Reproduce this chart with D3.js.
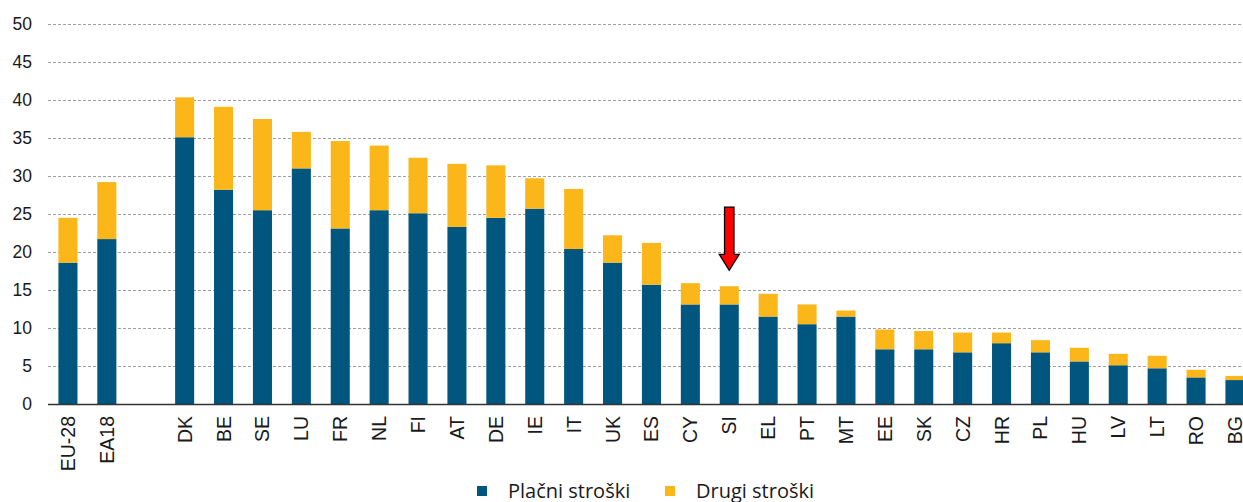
<!DOCTYPE html>
<html>
<head>
<meta charset="utf-8">
<script src="https://cdn.jsdelivr.net/npm/d3@7"></script>
<style>
  body { margin: 0; background: #fff; }
  .tick-label { font-family: "Liberation Sans", Arial, sans-serif; fill: #1a1a1a; }
  .legend-label { font-family: "Open Sans", "Noto Sans", sans-serif; fill: #1a1a1a; }
</style>
</head>
<body>
<div id="vis"></div>
<script>
// Categories (empty string = gap slot between aggregates and countries)
var categories = ["EU-28", "EA18", "", "DK", "BE", "SE", "LU", "FR", "NL", "FI", "AT", "DE", "IE", "IT", "UK",
    "ES", "CY", "SI", "EL", "PT", "MT", "EE", "SK", "CZ", "HR", "PL", "HU", "LV", "LT", "RO", "BG"];

// Plačni stroški (wage costs)
var wageCosts = [18.6, 21.7, 0, 35.1, 28.2, 25.5, 31.0, 23.1, 25.5, 25.1, 23.3, 24.5, 25.7, 20.4, 18.6,
    15.7, 13.1, 13.1, 11.5, 10.5, 11.5, 7.2, 7.2, 6.8, 8.0, 6.8, 5.6, 5.1, 4.7, 3.5, 3.15];

// Totals (wage + other costs)
var totalCosts = [24.5, 29.2, 0, 40.35, 39.1, 37.5, 35.8, 34.6, 34.0, 32.4, 31.6, 31.4, 29.7, 28.3, 22.2,
    21.2, 15.9, 15.5, 14.5, 13.1, 12.3, 9.8, 9.6, 9.4, 9.4, 8.4, 7.4, 6.6, 6.35, 4.5, 3.7];

var yTicks = [0, 5, 10, 15, 20, 25, 30, 35, 40, 45, 50];
var seriesNames = ["Plačni stroški", "Drugi stroški"];
var seriesColors = ["#00567f", "#fbb719"];
var highlighted = "SI";

var width = 1243;
var height = 502;

var svg = d3.select("#vis").append("svg").attr("width", width).attr("height", height);

var data = categories.map(function(c, i) {
    return { cat: c, wage: wageCosts[i], other: totalCosts[i] - wageCosts[i] };
});

// Scales
var xScale = d3.scaleBand()
    .domain(categories.map(function(c, i) { return i; }))
    .range([48.5, 48.5 + 31 * 38.9])
    .paddingInner(0.51)
    .paddingOuter(0.255);

var yScale = d3.scaleLinear().domain([0, 50]).range([404, 24]);

// Gridlines
svg.append("g").selectAll("line").data(yTicks.filter(function(t) { return t > 0; }))
    .enter().append("line")
    .attr("x1", 48).attr("x2", width)
    .attr("y1", function(d) { return Math.round(yScale(d)) + 0.5; })
    .attr("y2", function(d) { return Math.round(yScale(d)) + 0.5; })
    .attr("stroke", "#a0a0a0")
    .attr("stroke-width", 1)
    .attr("stroke-dasharray", "3,2");

// Y axis labels
var yAxis = d3.axisLeft(yScale).tickValues(yTicks).tickSize(0).tickPadding(0);
var gy = svg.append("g").attr("transform", "translate(32,0)").call(yAxis);
gy.select(".domain").remove();
gy.selectAll("text").attr("class", "tick-label").style("font-size", "17.5px").attr("dy", "0.34em");

// Stacked bars
var stack = d3.stack().keys(["wage", "other"]);
var layers = stack(data);

svg.append("g").selectAll("g").data(layers).enter().append("g")
    .attr("fill", function(d, i) { return seriesColors[i]; })
    .selectAll("rect").data(function(d) { return d; })
    .enter().append("rect")
    .filter(function(d) { return d.data.cat !== ""; })
    .attr("x", function(d) { return xScale(categories.indexOf(d.data.cat)); })
    .attr("width", xScale.bandwidth())
    .attr("y", function(d) { return yScale(d[1]); })
    .attr("height", function(d) { return yScale(d[0]) - yScale(d[1]); });

// Zero axis line
svg.append("line")
    .attr("x1", 48).attr("x2", width)
    .attr("y1", yScale(0) + 0.5).attr("y2", yScale(0) + 0.5)
    .attr("stroke", "#333").attr("stroke-width", 1.6);

// X labels (rotated)
var xAxis = d3.axisBottom(xScale).tickSize(0).tickFormat(function(i) { return categories[i]; });
var gx = svg.append("g").attr("transform", "translate(0," + yScale(0) + ")").call(xAxis);
gx.select(".domain").remove();
gx.selectAll("text")
    .attr("class", "tick-label")
    .style("font-size", "19.5px")
    .attr("text-anchor", "end")
    .attr("transform", "rotate(-90)")
    .attr("x", -12)
    .attr("y", 0)
    .attr("dy", "0.36em");

// Arrow pointing at the highlighted country
var xc = xScale(categories.indexOf(highlighted)) + xScale.bandwidth() / 2;
var yTop = yScale(25.9), yHead = yScale(19.7), yTip = yScale(17.6);
var arrowPts = [[xc - 4.7, yTop], [xc + 4.7, yTop], [xc + 4.7, yHead], [xc + 10, yHead],
    [xc, yTip], [xc - 10, yHead], [xc - 4.7, yHead]];
svg.append("polygon")
    .attr("points", arrowPts.map(function(p) { return p.join(","); }).join(" "))
    .attr("fill", "#ff0000")
    .attr("stroke", "#000")
    .attr("stroke-width", 1.3);

// Legend
var legendX = [477, 665];
var legend = svg.append("g").selectAll("g").data(seriesNames).enter().append("g")
    .attr("transform", function(d, i) { return "translate(" + legendX[i] + ",486)"; });
legend.append("rect").attr("width", 10).attr("height", 10)
    .attr("fill", function(d, i) { return seriesColors[i]; });
legend.append("text")
    .attr("class", "legend-label")
    .attr("x", 31).attr("y", 11.5)
    .style("font-size", "20px")
    .text(function(d) { return d; });
</script>
</body>
</html>
